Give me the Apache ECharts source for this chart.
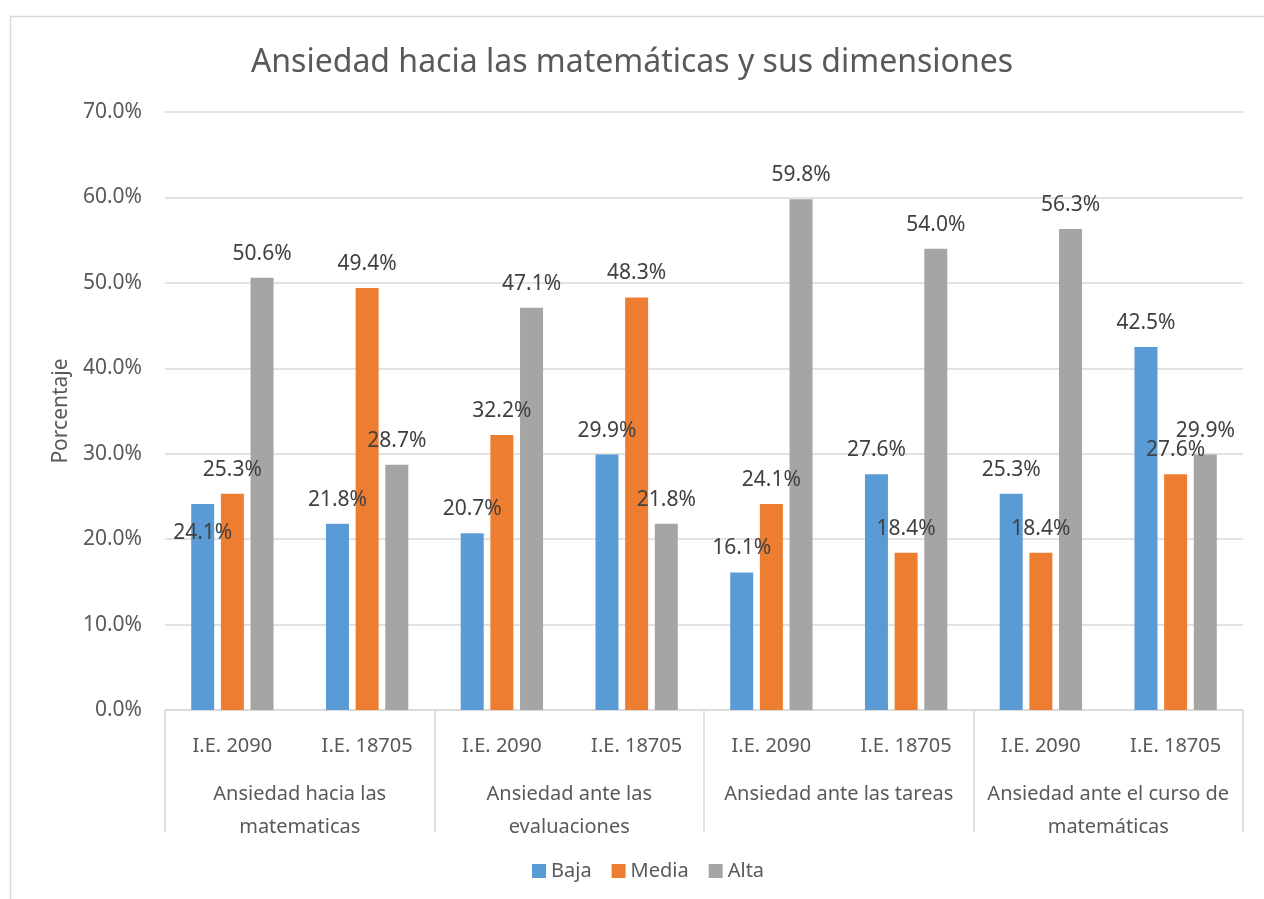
<!DOCTYPE html>
<html>
<head>
<meta charset="utf-8">
<title>Ansiedad hacia las matemáticas y sus dimensiones</title>
<script src="https://cdn.jsdelivr.net/npm/echarts@6/dist/echarts.min.js"></script>
<style>
    html, body { margin: 0; padding: 0; background: #ffffff; }
    #main { width: 1264px; height: 899px; }
</style>
</head>
<body>
<div id="main"></div>
<script>
// datos
var instituciones = ['I.E. 2090', 'I.E. 18705', 'I.E. 2090', 'I.E. 18705',
                     'I.E. 2090', 'I.E. 18705', 'I.E. 2090', 'I.E. 18705'];
var dimensiones = ['Ansiedad hacia las\nmatematicas', 'Ansiedad ante las\nevaluaciones',
                   'Ansiedad ante las tareas', 'Ansiedad ante el curso de\nmatemáticas'];
var baja = [24.1, 21.8, 20.7, 29.9, 16.1, 27.6, 25.3, 42.5];
var media = [25.3, 49.4, 32.2, 48.3, 24.1, 18.4, 18.4, 27.6];
var alta = [50.6, 28.7, 47.1, 21.8, 59.8, 54.0, 56.3, 29.9];
var yMin = 0, yMax = 70, yStep = 10;

var fuente = 'Noto Sans';

var myChart = echarts.init(document.getElementById('main'));

// etiqueta de datos común
function etiqueta() {
    return {
        show: true,
        position: 'top',
        distance: 12,
        fontFamily: fuente,
        fontSize: 21,
        lineHeight: 24,
        color: '#404040',
        formatter: function (p) { return p.value.toFixed(1) + '%'; }
    };
}

// en el original la etiqueta 24.1% del primer grupo quedó dentro de la barra
var bajaData = baja.map(function (v, i) {
    return i === 0 ? { value: v, label: { offset: [0, 53] } } : v;
});

var option = {
    backgroundColor: '#ffffff',
    color: ['#5B9BD5', '#ED7D31', '#A5A5A5'],
    title: {
        text: 'Ansiedad hacia las matemáticas y sus dimensiones',
        left: 'center',
        top: 38,
        textStyle: {
            fontFamily: fuente,
            fontSize: 32,
            lineHeight: 40,
            fontWeight: 'normal',
            color: '#595959'
        }
    },
    legend: {
        data: ['Baja', 'Media', 'Alta'],
        left: 527,
        top: 856,
        itemWidth: 14,
        itemHeight: 14,
        itemGap: 20,
        icon: 'rect',
        textStyle: { fontFamily: fuente, fontSize: 20, color: '#595959' }
    },
    graphic: [{
        type: 'rect',
        left: 8,
        top: 14,
        silent: true,
        shape: { width: 1300, height: 1000 },
        style: { fill: 'none', stroke: '#d9d9d9', lineWidth: 1.5 }
    }],
    grid: {
        left: 165,
        right: 21,
        top: 112,
        bottom: 189
    },
    xAxis: [
        {
            type: 'category',
            data: instituciones,
            position: 'bottom',
            axisLine: { lineStyle: { color: '#d9d9d9', width: 1.5 } },
            axisTick: { show: false },
            axisLabel: {
                interval: 0,
                margin: 24,
                lineHeight: 24,
                fontFamily: fuente,
                fontSize: 20,
                color: '#595959'
            }
        },
        {
            type: 'category',
            data: dimensiones,
            position: 'bottom',
            axisLine: { show: false },
            axisTick: {
                show: true,
                interval: 0,
                length: 122,
                lineStyle: { color: '#d9d9d9', width: 1.5 }
            },
            axisLabel: {
                interval: 0,
                margin: 68,
                lineHeight: 33,
                fontFamily: fuente,
                fontSize: 20,
                color: '#595959'
            },
            splitLine: { show: false }
        }
    ],
    yAxis: {
        type: 'value',
        min: yMin,
        max: yMax,
        interval: yStep,
        name: 'Porcentaje',
        nameLocation: 'middle',
        nameGap: 92,
        nameRotate: 90,
        nameTextStyle: { fontFamily: fuente, fontSize: 21, color: '#595959' },
        axisLine: { show: false },
        axisTick: { show: false },
        axisLabel: {
            margin: 23,
            fontFamily: fuente,
            fontSize: 21,
            color: '#595959',
            formatter: function (v) { return v.toFixed(1) + '%'; }
        },
        splitLine: { lineStyle: { color: '#d9d9d9', width: 1.5 } }
    },
    series: [
        {
            name: 'Baja',
            type: 'bar',
            xAxisIndex: 0,
            barWidth: 23,
            barGap: '29%',
            label: etiqueta(),
            data: bajaData
        },
        {
            name: 'Media',
            type: 'bar',
            xAxisIndex: 0,
            barWidth: 23,
            barGap: '29%',
            label: etiqueta(),
            data: media
        },
        {
            name: 'Alta',
            type: 'bar',
            xAxisIndex: 0,
            barWidth: 23,
            barGap: '29%',
            label: etiqueta(),
            data: alta
        }
    ]
};

myChart.setOption(option);
</script>
</body>
</html>
